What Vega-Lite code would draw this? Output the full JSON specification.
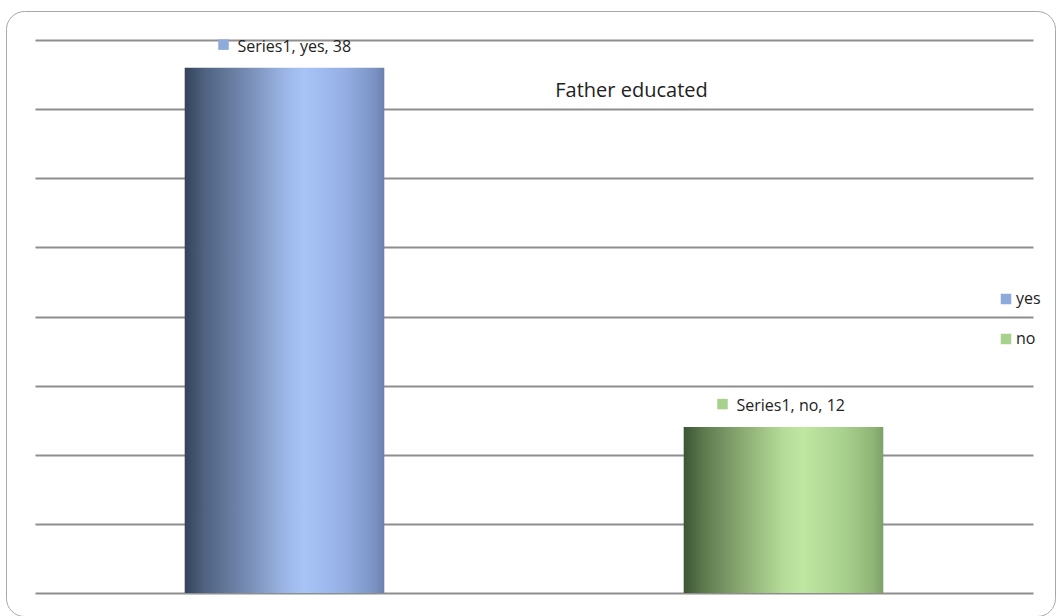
{
  "$schema": "https://vega.github.io/schema/vega-lite/v6.json",
  "width": 1049,
  "height": 605,
  "autosize": {"type": "none"},
  "padding": {"left": 6, "top": 11, "right": 1, "bottom": 0},
  "background": "white",
  "title": {
    "text": "Father educated",
    "orient": "top",
    "anchor": "middle",
    "frame": "group",
    "baseline": "alphabetic",
    "offset": 0,
    "dx": 101,
    "dy": 106,
    "font": "Open Sans",
    "fontSize": 20,
    "fontWeight": "normal",
    "color": "#222222"
  },
  "data": {
    "values": [
      {"series": "Series1", "cat": "yes", "value": 38},
      {"series": "Series1", "cat": "no", "value": 12}
    ]
  },
  "transform": [
    {"calculate": "datum.series + ', ' + datum.cat + ', ' + datum.value", "as": "label"}
  ],
  "encoding": {
    "x": {
      "field": "cat",
      "type": "nominal",
      "sort": ["yes", "no"],
      "axis": null,
      "scale": {"range": [29, 1027], "paddingInner": 0.6, "paddingOuter": 0.3}
    },
    "y": {
      "field": "value",
      "type": "quantitative",
      "scale": {"domain": [0, 40], "range": [582, 29], "nice": false, "zero": true},
      "axis": {
        "values": [0, 5, 10, 15, 20, 25, 30, 35, 40],
        "grid": true,
        "gridColor": "#8e8e8e",
        "gridWidth": 2,
        "domain": false,
        "ticks": false,
        "labels": false,
        "title": null
      }
    }
  },
  "layer": [
    {
      "transform": [{"filter": "datum.cat === 'yes'"}],
      "mark": {
        "type": "bar",
        "color": {
          "gradient": "linear",
          "x1": 0, "y1": 0, "x2": 1, "y2": 0,
          "stops": [
            {"offset": 0, "color": "#34435a"},
            {"offset": 0.1, "color": "#4f6280"},
            {"offset": 0.3, "color": "#7489b0"},
            {"offset": 0.5, "color": "#9bb5e5"},
            {"offset": 0.6, "color": "#a8c4f7"},
            {"offset": 0.8, "color": "#95afe4"},
            {"offset": 0.95, "color": "#7b93c4"},
            {"offset": 1, "color": "#6a80ac"}
          ]
        }
      }
    },
    {
      "transform": [{"filter": "datum.cat === 'no'"}],
      "mark": {
        "type": "bar",
        "color": {
          "gradient": "linear",
          "x1": 0, "y1": 0, "x2": 1, "y2": 0,
          "stops": [
            {"offset": 0, "color": "#3c5535"},
            {"offset": 0.1, "color": "#5d7a4e"},
            {"offset": 0.3, "color": "#8cac74"},
            {"offset": 0.5, "color": "#b5dc98"},
            {"offset": 0.6, "color": "#bfe7a2"},
            {"offset": 0.8, "color": "#a9d18e"},
            {"offset": 0.95, "color": "#8fb576"},
            {"offset": 1, "color": "#7f9f68"}
          ]
        }
      }
    },
    {
      "mark": {"type": "square", "filled": true, "size": 110, "opacity": 1, "xOffset": -61, "yOffset": -23},
      "encoding": {
        "color": {
          "field": "cat",
          "type": "nominal",
          "sort": ["yes", "no"],
          "scale": {"domain": ["yes", "no"], "range": ["#8eaadb", "#a9d18e"]},
          "legend": {
            "orient": "none",
            "legendX": 992,
            "legendY": 280,
            "title": null,
            "padding": 0,
            "symbolType": "square",
            "symbolSize": 110,
            "symbolStrokeWidth": 0,
            "symbolOpacity": 1,
            "labelFont": "Open Sans",
            "labelFontSize": 16,
            "labelColor": "#222222",
            "labelOffset": 2,
            "rowPadding": 24
          }
        }
      }
    },
    {
      "mark": {
        "type": "text",
        "align": "left",
        "baseline": "alphabetic",
        "dx": -47,
        "dy": -16,
        "font": "Open Sans",
        "fontSize": 16,
        "color": "#222222"
      },
      "encoding": {"text": {"field": "label", "type": "nominal"}}
    }
  ],
  "config": {
    "view": {"stroke": "#a8a8a8", "strokeWidth": 1, "cornerRadius": 18}
  }
}
